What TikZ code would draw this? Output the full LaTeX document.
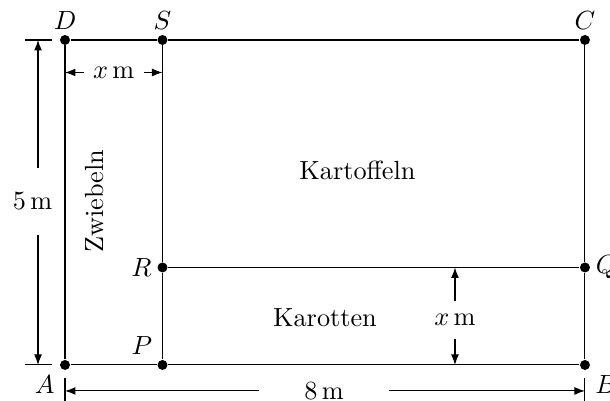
\documentclass[tikz,border=0pt]{standalone}
\usetikzlibrary{arrows.meta,calc,positioning}
\begin{document}
\begin{tikzpicture}[>={Latex[length=4pt,width=3pt]},x=0.87cm,y=0.87cm,
 dot/.style={circle,fill,inner sep=0pt,minimum size=3.8pt},label distance=-1.5pt]
\useasboundingbox (-1.0,-0.554) rectangle (8.385,5.615);
\node[dot,label=above:$D$] (D) at (0,5) {};
\node[dot,label=above:$S$] (S) at (1.5,5) {};
\node[dot,label=above:$C$] (C) at (8,5) {};
\node[dot,label=left:$R$] (R) at (1.5,1.5) {};
\node[dot,label=right:$Q$] (Q) at (8,1.5) {};
\node[dot,label=below left:$A$] (A) at (0,0) {};
\node[dot,label=above left:$P$] (P) at (1.5,0) {};
\node[dot,label=below right:$B$] (B) at (8,0) {};
\draw (D)--(S)--(C)--(Q)--(B)--(P)--(A)--(D);
\draw (S)--(R)--(P);
\draw (R)--(Q);
\node (kart) at (4.5,3) {Kartoffeln};
\node (karo) at (4,0.72) {Karotten};
\node[rotate=90] (zwie) at (0.46,2.52) {Zwiebeln};
% x m oben und rechts
\node (xo) at (0.75,4.5) {$x\,$m};
\draw[->] (xo)--(xo -| D);
\draw[->] (xo)--(xo -| S);
\node[minimum height=14pt] (xr) at (6,0.69) {$x\,$m};
\draw[->] (xr)--(xr |- R);
\draw[->] (xr)--(xr |- P);
% 5 m links
\coordinate (lt) at (-0.415,5);
\coordinate (lb) at (-0.415,0);
\draw ($(D)+(-0.615,0)$)--($(D)+(-0.2,0)$);
\draw ($(A)+(-0.615,0)$)--($(A)+(-0.2,0)$);
\node[inner sep=0pt,minimum height=0.896cm] (m5) at (-0.5,2.515) {$5\,$m};
\draw[->] (m5.north -| lt)--(lt);
\draw[->] (m5.south -| lb)--(lb);
% 8 m unten
\draw ($(A)+(0,-0.2)$)--($(A)+(0,-0.65)$);
\draw ($(B)+(0,-0.2)$)--($(B)+(0,-0.65)$);
\node[inner sep=0pt,minimum width=1.714cm] (m8) at (3.985,-0.4) {$8\,$m};
\draw[->] (m8.west)--(m8.west -| A);
\draw[->] (m8.east)--(m8.east -| B);
\end{tikzpicture}
\end{document}
